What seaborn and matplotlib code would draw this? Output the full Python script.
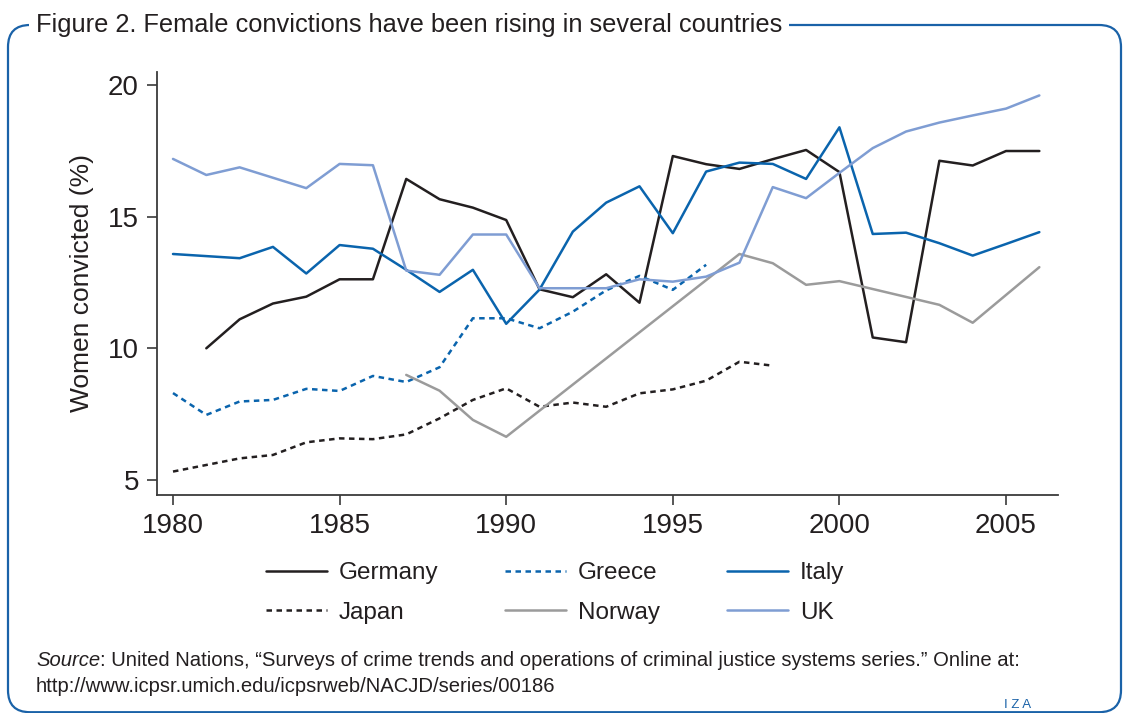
import matplotlib
matplotlib.use("Agg")
import matplotlib.pyplot as plt
from matplotlib.patches import FancyBboxPatch
from matplotlib.lines import Line2D
import seaborn as sns
import pandas as pd
import numpy as np

# ---- data ----
years = list(range(1980, 2007))
germany = [None, 10.0, 11.1, 11.7, 11.96, 12.62, 12.62, 16.43, 15.66, 15.34,
           14.87, 12.24, 11.94, 12.81, 11.73, 17.3, 16.99, 16.81, 17.18, 17.53,
           16.69, 10.41, 10.23, 17.12, 16.94, 17.49, 17.49]
greece = [8.3, 7.47, 7.98, 8.04, 8.46, 8.38, 8.95, 8.72, 9.28, 11.14,
          11.14, 10.76, 11.39, 12.2, 12.75, 12.22, 13.17] + [None] * 10
italy = [13.58, None, 13.42, 13.85, 12.84, 13.92, 13.78, 12.98, 12.14, 12.98,
         10.93, 12.23, 14.43, 15.53, 16.15, 14.37, 16.71, 17.05, 17.0, 16.43,
         18.39, 14.34, 14.39, 13.99, 13.52, 13.96, 14.41]
japan = [5.32, 5.57, 5.82, 5.95, 6.43, 6.58, 6.55, 6.73, 7.34, 8.04,
         8.48, 7.78, 7.94, 7.78, 8.29, 8.44, 8.77, 9.49, 9.34] + [None] * 8
norway = [None] * 7 + [8.99, 8.39, 7.28, 6.64] + [None] * 6 + \
         [13.58, 13.23, 12.41, 12.55, None, None, 11.65, 10.97, None, 13.08]
uk = [17.19, 16.58, 16.87, None, 16.08, 17.0, 16.95, 12.95, 12.79, 14.32,
      14.32, 12.28, 12.28, 12.28, 12.62, 12.53, 12.72, 13.25, 16.12, 15.7,
      16.66, 17.6, 18.23, 18.57, 18.84, 19.1, 19.6]

countries = ["Germany", "Greece", "Italy", "Japan", "Norway", "UK"]
series = [germany, greece, italy, japan, norway, uk]

rows = []
for name, vals in zip(countries, series):
    for y, v in zip(years, vals):
        if v is not None:
            rows.append({"year": y, "value": v, "country": name})
df = pd.DataFrame(rows)

# ---- styles ----
colors = {"Germany": "#231f20", "Greece": "#0a64ad", "Italy": "#0a64ad",
          "Japan": "#231f20", "Norway": "#9b9b9b", "UK": "#7f9dd3"}
dash_pat = (0, (2.2, 1.8))
styles = {"Germany": "-", "Greece": dash_pat, "Italy": "-",
          "Japan": dash_pat, "Norway": "-", "UK": "-"}

sns.set_theme(style="white")
plt.rcParams["font.family"] = ["Liberation Sans", "DejaVu Sans"]
text_color = "#231f20"
axis_color = "#3a3a3a"

fig = plt.figure(figsize=(11.24, 7.13), dpi=100)
ax = fig.add_axes([157 / 1124, 1 - 495 / 713, (1058 - 157) / 1124, (495 - 72) / 713])

lw = 1.8
for name in countries:
    sub = df[df["country"] == name]
    sns.lineplot(data=sub, x="year", y="value", ax=ax, color=colors[name],
                 linewidth=lw, linestyle=styles[name], label=None,
                 estimator=None, sort=True)

ax.set_xlim(1979.52, 2006.56)
ax.set_ylim(4.43, 20.49)
ax.set_xticks([1980, 1985, 1990, 1995, 2000, 2005])
ax.set_yticks([5, 10, 15, 20])
ax.set_xlabel("")
ax.set_ylabel("Women convicted (%)", fontsize=19, color=text_color, labelpad=10)
for side in ["top", "right"]:
    ax.spines[side].set_visible(False)
for side in ["left", "bottom"]:
    ax.spines[side].set_color(axis_color)
    ax.spines[side].set_linewidth(1.3)
ax.tick_params(axis="both", which="both", direction="out", length=7, width=1.2,
               color=axis_color, labelsize=20, labelcolor=text_color, pad=6,
               bottom=True, left=True)
ax.grid(False)
if ax.get_legend() is not None:
    ax.get_legend().remove()

# legend: row-wise Germany, Greece, Italy / Japan, Norway, UK
order = ["Germany", "Japan", "Greece", "Norway", "Italy", "UK"]
handles = [Line2D([0], [0], color=colors[n], lw=lw, linestyle=styles[n]) for n in order]
leg = fig.legend(handles, order, loc="center", ncol=3,
                 bbox_to_anchor=(555 / 1124, 1 - 593 / 713), frameon=False,
                 fontsize=17.5, handlelength=2.5, handletextpad=0.5,
                 columnspacing=2.75, labelspacing=0.72)
for t in leg.get_texts():
    t.set_color(text_color)

# frame
frame = FancyBboxPatch((8, 0.8), 1121 - 8, 713 - 25 - 0.8,
                       boxstyle="round,pad=0,rounding_size=22",
                       transform=None, facecolor="none", edgecolor="#1a62a8",
                       linewidth=1.6)
fig.add_artist(frame)

fig.text(36 / 1124, 1 - 25 / 713,
         "Figure 2. Female convictions have been rising in several countries",
         fontsize=18.3, color=text_color, va="center", ha="left",
         bbox=dict(facecolor="white", edgecolor="none", pad=5))

src_y = 1 - 660 / 713
t1 = fig.text(36 / 1124, src_y, "Source", fontsize=14.6, style="italic",
              color=text_color, va="center", ha="left")
renderer = fig.canvas.get_renderer()
bb = t1.get_window_extent(renderer=renderer)
fig.text(bb.x1 / 1124, src_y,
         ": United Nations, \u201cSurveys of crime trends and operations of criminal justice systems series.\u201d Online at:",
         fontsize=14.6, color=text_color, va="center", ha="left")
fig.text(36 / 1124, 1 - 687 / 713,
         "http://www.icpsr.umich.edu/icpsrweb/NACJD/series/00186",
         fontsize=14.6, color=text_color, va="center", ha="left")
fig.text(1018 / 1124, 1 - 705 / 713, "I Z A", fontsize=9.5, color="#1a62a8",
         va="center", ha="center")

fig.savefig("out.png", dpi=100)
